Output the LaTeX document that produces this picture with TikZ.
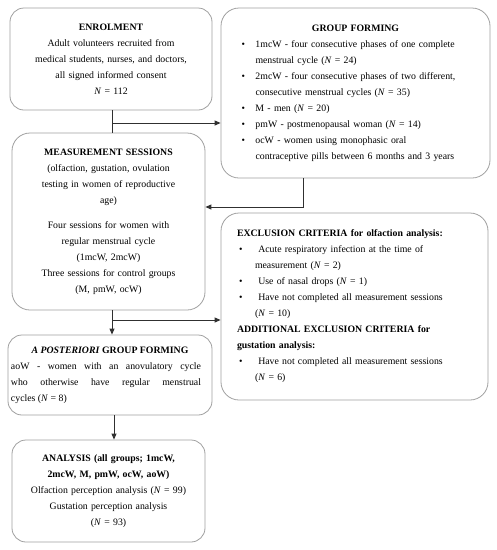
\documentclass[tikz,border=0pt]{standalone}
\usepackage{fontspec}
\setmainfont{Liberation Serif}
\usetikzlibrary{arrows.meta}
\definecolor{boxgray}{HTML}{A0A0A0}
\definecolor{linegray}{HTML}{303030}
\newcommand\fs{\fontsize{9.8}{16}\selectfont}
\newcommand\NN{\textit{N}}
\newcommand\bul[1][16pt]{\par\hangindent=#1\hangafter=1\noindent\makebox[#1][l]{\hspace{2pt}\textbullet}}
\setlength\parindent{0pt}
\tikzset{
  box/.style={draw=boxgray, line width=0.8pt, rounded corners=14pt, inner sep=0pt, font=\fs},
  conn/.style={draw=linegray, line width=1pt},
  arr/.style={conn, -{Triangle[length=6pt,width=5pt]}},
}
\begin{document}
\begin{tikzpicture}[x=1pt,y=-1pt]
\useasboundingbox (0,0) rectangle (497,550);

\node[box, minimum width=202pt, minimum height=102pt, text width=190pt, align=center] (e) at (111,59)
 {\textbf{ENROLMENT}\\ Adult volunteers recruited from\\ medical students, nurses, and doctors,\\ all signed informed consent\\ \NN{} = 112};

\node[box, rounded corners=18pt, minimum width=269pt, minimum height=170pt, text width=232pt] (g) at (355.5,93)
 {\raggedright{\centering\textbf{GROUP FORMING}\par}
  \bul 1mcW - four consecutive phases of one complete\newline menstrual cycle (\NN{} = 24)
  \bul 2mcW - four consecutive phases of two different,\newline consecutive menstrual cycles (\NN{} = 35)
  \bul M - men (\NN{} = 20)
  \bul pmW - postmenopausal woman (\NN{} = 14)
  \bul ocW - women using monophasic oral\newline contraceptive pills between 6 months and 3 years\par};

\node[box, rounded corners=18pt, minimum width=193pt, minimum height=177pt, text width=185pt, align=center] (m) at (108.5,221.5)
 {\textbf{MEASUREMENT SESSIONS}\\ (olfaction, gustation, ovulation\\ testing in women of reproductive\\ age)\\[9pt] Four sessions for women with\\ regular menstrual cycle\\ (1mcW, 2mcW)\\ Three sessions for control groups\\ (M, pmW, ocW)};

\node[box, rounded corners=18pt, minimum width=267pt, minimum height=187pt, text width=235pt] (x) at (354.5,306.5)
 {\raggedright\textbf{EXCLUSION CRITERIA for olfaction analysis:}
  \bul[18pt] Acute respiratory infection at the time of\newline measurement (\NN{} = 2)
  \bul[18pt] Use of nasal drops (\NN{} = 1)
  \bul[18pt] Have not completed all measurement sessions\newline (\NN{} = 10)
  \par\textbf{ADDITIONAL EXCLUSION CRITERIA for}\newline \textbf{gustation analysis:}
  \bul[18pt] Have not completed all measurement sessions\newline (\NN{} = 6)\par};

\node[box, minimum width=204pt, minimum height=80pt, text width=200pt, align=justify] (p) at (110,375)
 {{\centering\textbf{\textit{A POSTERIORI}} \textbf{GROUP FORMING}\par}
  \leftskip=1pt\rightskip=9pt aoW - women with an anovulatory cycle\linebreak who otherwise have regular menstrual\linebreak cycles (\NN{} = 8)\par};

\node[box, minimum width=193pt, minimum height=102pt, text width=185pt, align=center] (a) at (108.5,491)
 {\textbf{ANALYSIS (all groups; 1mcW,}\\ \textbf{2mcW, M, pmW, ocW, aoW)}\\ Olfaction perception analysis (\NN{} = 99)\\ Gustation perception analysis\\ (\NN{} = 93)};

\coordinate (j1) at (112,123);
\coordinate (j2) at (303,207);
\coordinate (j3) at (112,320);
\coordinate (j4) at (114,427);

\draw[conn] (j1 |- e.south) -- (j1 |- m.north);
\draw[arr] (j1) -- (j1 -| g.west);
\draw[arr] (j2 |- g.south) -- (j2) -- (j2 -| m.east);
\draw[arr] (j3 |- m.south) -- (j3 |- p.north);
\draw[arr] (j3) -- (j3 -| x.west);
\draw[arr] (j4 |- p.south) -- (j4 |- a.north);
\end{tikzpicture}
\end{document}
